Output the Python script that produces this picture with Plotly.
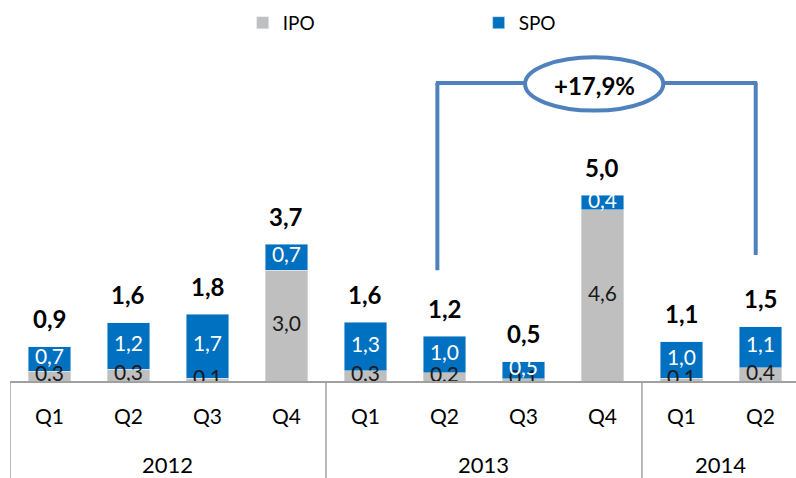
import plotly.graph_objects as go

years = ["2012", "2012", "2012", "2012", "2013", "2013", "2013", "2013", "2014", "2014"]
quarters = ["Q1", "Q2", "Q3", "Q4", "Q1", "Q2", "Q3", "Q4", "Q1", "Q2"]
ipo = [0.26, 0.32, 0.08, 2.98, 0.28, 0.22, 0.06, 4.60, 0.08, 0.36]
spo = [0.66, 1.24, 1.72, 0.70, 1.30, 0.98, 0.46, 0.40, 0.98, 1.10]
growth_label = "+17,9%"

cats = [f"{y} {q}" for y, q in zip(years, quarters)]
totals = [a + b for a, b in zip(ipo, spo)]

def fmt(v):
    return f"{v:.1f}".replace(".", ",")

FONT = "Lato, 'Open Sans', sans-serif"
GRAY = "#BFBFBF"
BLUE = "#0070C0"
LINE = "#4F81BD"
AX = "#A0A0A0"

fig = go.Figure()
fig.add_bar(x=cats, y=ipo, name="IPO", marker_color=GRAY, width=0.54)
fig.add_bar(x=cats, y=spo, name="SPO", marker_color=BLUE, width=0.54)

# segment labels
fig.add_scatter(x=cats, y=[v / 2 for v in ipo], mode="text",
                text=[fmt(v) for v in ipo], showlegend=False, hoverinfo="skip",
                textfont=dict(family=FONT, size=21, color="#1a1a1a"))
fig.add_scatter(x=cats, y=[a + b / 2 for a, b in zip(ipo, spo)], mode="text",
                text=[fmt(v) for v in spo], showlegend=False, hoverinfo="skip",
                textfont=dict(family=FONT, size=21, color="white"))

annotations = []
for c, t in zip(cats, totals):
    annotations.append(dict(x=c, y=t, text=f"<b>{fmt(t)}</b>", showarrow=False,
                            yanchor="middle", yshift=28,
                            font=dict(family=FONT, size=24, color="black")))

# year labels
groups = []
for i, y in enumerate(years):
    if not groups or groups[-1][0] != y:
        groups.append([y, i, i])
    else:
        groups[-1][2] = i
for y, s, e in groups:
    annotations.append(dict(x=(s + e) / 2, y=0, yref="paper", text=y, showarrow=False,
                            yanchor="middle", yshift=-83,
                            font=dict(family=FONT, size=22, color="black")))

# growth label in ellipse
i1, i2 = 5, 9
ex0, ex1 = 6.02, 7.77
annotations.append(dict(x=(ex0 + ex1) / 2, y=8.0, text=f"<b>{growth_label}</b>",
                        showarrow=False, yanchor="middle", yshift=-2,
                        font=dict(family=FONT, size=24, color="black")))

shapes = []
# category box lines
bounds = [-0.5] + [e + 0.5 for _, _, e in groups[:-1]]
for b in bounds:
    shapes.append(dict(type="line", xref="x", yref="paper", x0=b, x1=b, y0=0, y1=-0.3,
                       line=dict(color=AX, width=1.5)))
# bracket
xl, xr = i1 - 0.09, i2 - 0.06
ytop = 8.01
shapes.append(dict(type="line", x0=xl, x1=xl, y0=totals[i1] + 1.78, y1=ytop,
                   line=dict(color=LINE, width=4)))
shapes.append(dict(type="line", x0=xr, x1=xr, y0=totals[i2] + 1.93, y1=ytop,
                   line=dict(color=LINE, width=4)))
shapes.append(dict(type="line", x0=xl - 0.02, x1=ex0, y0=ytop, y1=ytop,
                   line=dict(color=LINE, width=4)))
shapes.append(dict(type="line", x0=ex1, x1=xr + 0.02, y0=ytop, y1=ytop,
                   line=dict(color=LINE, width=4)))
shapes.append(dict(type="circle", x0=ex0, x1=ex1, y0=7.27, y1=8.7,
                   line=dict(color=LINE, width=4), fillcolor="rgba(0,0,0,0)", layer="below"))

fig.update_layout(
    width=796, height=478,
    margin=dict(l=10, r=0, t=0, b=97, autoexpand=False),
    barmode="stack",
    plot_bgcolor="white", paper_bgcolor="white",
    font=dict(family=FONT, size=20, color="black"),
    showlegend=True,
    legend=dict(orientation="h", x=0.296, xanchor="left", y=0.94, yanchor="middle",
                traceorder="normal",
                entrywidth=191, entrywidthmode="pixels",
                font=dict(family=FONT, size=19, color="black"),
                bgcolor="rgba(0,0,0,0)", itemclick=False),
    xaxis=dict(type="category", range=[-0.5, 9.45], tickvals=cats, ticktext=quarters,
               showline=True, linecolor=AX, linewidth=1.5, showgrid=False,
               ticks="outside", ticklen=16, tickcolor="rgba(0,0,0,0)",
               tickfont=dict(family=FONT, size=21, color="black"), fixedrange=True),
    yaxis=dict(range=[0, 381 / 37.2], visible=False, showgrid=False, fixedrange=True),
    annotations=annotations,
    shapes=shapes,
)

fig.write_html("out.html", config={"displayModeBar": False},
               post_script="document.body.style.margin='0';")
